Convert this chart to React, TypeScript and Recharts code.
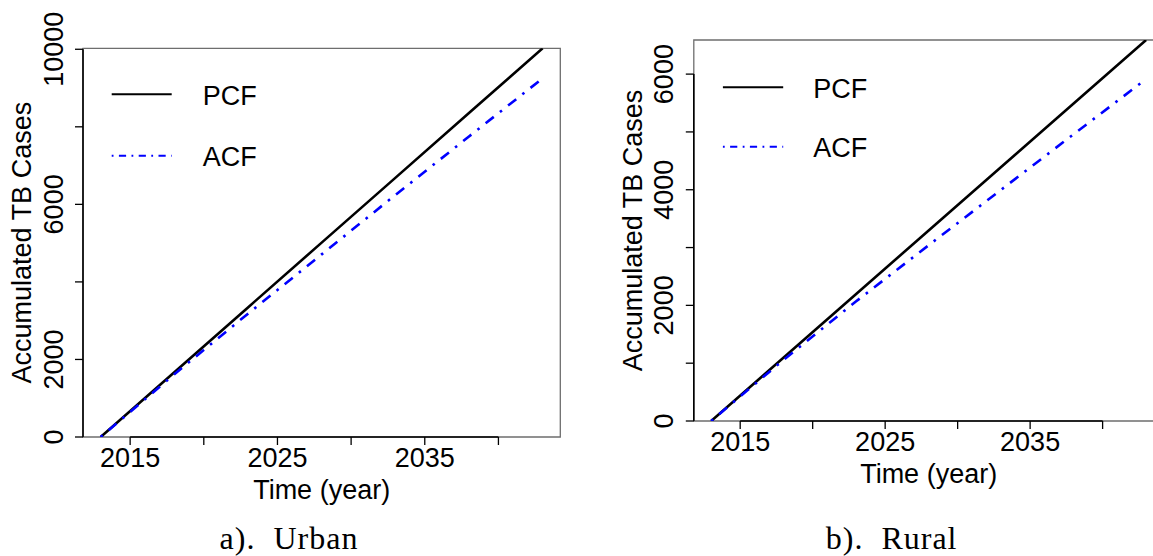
import React from 'react';
import { LineChart, Line, XAxis, YAxis, ReferenceLine, ReferenceArea, Legend } from 'recharts';

const FONT = '"Liberation Sans", Arial, Helvetica, sans-serif';
const SERIF = '"Liberation Serif", "Times New Roman", serif';

// Data
const YEARS = [2013, 2018, 2023, 2028, 2033, 2038, 2043];
const URBAN_PCF = [0, 1671, 3342, 5013, 6683, 8354, 10025];
const URBAN_ACF = [0, 1620, 3180, 4710, 6240, 7750, 9252];
const RURAL_PCF = [0, 1098, 2197, 3295, 4393, 5492, 6590];
const RURAL_ACF = [0, 1060, 2070, 3040, 4000, 4960, 5914];

const SERIES_NAMES = ['PCF', 'ACF'];
const X_TICKS = [2015, 2020, 2025, 2030, 2035, 2040];
const X_LABELS = [2015, 2025, 2035];
const X_DOMAIN = [2011.8, 2044.2];
const URBAN_Y_TICKS = [0, 2000, 4000, 6000, 8000, 10000];
const URBAN_Y_LABELS = [0, 2000, 6000, 10000];
const URBAN_Y_MAX = 10025;
const RURAL_Y_TICKS = [0, 1000, 2000, 3000, 4000, 5000, 6000];
const RURAL_Y_LABELS = [0, 2000, 4000, 6000];
const RURAL_Y_MAX = 6590;
const CAPTIONS = ['a).  Urban', 'b).  Rural'];
const X_TITLE = 'Time (year)';
const Y_TITLE = 'Accumulated TB Cases';

const build = (pcf: number[], acf: number[]) =>
  YEARS.map((y, i) => ({ year: y, PCF: pcf[i], ACF: acf[i] }));

const URBAN_DATA = build(URBAN_PCF, URBAN_ACF);
const RURAL_DATA = build(RURAL_PCF, RURAL_ACF);

const FS = 27;
const CAP = FS * 0.358;

const renderXTick = (p: any) => {
  const v = p.payload && p.payload.value;
  if (!X_LABELS.includes(v)) return <g />;
  return (
    <text x={p.x} y={p.y + 21.7} textAnchor="middle" fontFamily={FONT} fontSize={FS} fill="#000">
      {v}
    </text>
  );
};

const makeYTick = (labels: number[]) => (p: any) => {
  const v = p.payload && p.payload.value;
  if (!labels.includes(v)) return <g />;
  const cx = p.x - 22;
  return (
    <text
      transform={`translate(${cx},${p.y}) rotate(-90)`}
      x={0}
      y={0}
      dy={CAP}
      textAnchor="middle"
      fontFamily={FONT}
      fontSize={FS}
      fill="#000"
    >
      {v}
    </text>
  );
};

const XTitle = (props: any) => {
  const vb = props.viewBox || {};
  return (
    <text x={vb.x + vb.width / 2} y={vb.y + 62} textAnchor="middle" fontFamily={FONT} fontSize={FS} fill="#000">
      {X_TITLE}
    </text>
  );
};

const YTitle = (props: any) => {
  const vb = props.viewBox || {};
  const cx = vb.x + vb.width - 61.5;
  const cy = vb.y + vb.height / 2;
  return (
    <text
      transform={`translate(${cx},${cy}) rotate(-90)`}
      x={0}
      y={0}
      dy={CAP}
      textAnchor="middle"
      fontFamily={FONT}
      fontSize={FS}
      fill="#000"
    >
      {Y_TITLE}
    </text>
  );
};

type LegendGeo = { left: number; top: number; x1: number; x2: number; tx: number; y1: number; y2: number };

const makeLegend = (g: LegendGeo) => () => (
  <svg width={260} height={130} style={{ display: 'block' }}>
    <line x1={g.x1} x2={g.x2} y1={g.y1} y2={g.y1} stroke="#000" strokeWidth={2} />
    <text x={g.tx} y={g.y1 + 10.3} fontFamily={FONT} fontSize={FS} fill="#000">
      {SERIES_NAMES[0]}
    </text>
    <line x1={g.x1} x2={g.x2} y1={g.y2} y2={g.y2} stroke="#0000ff" strokeWidth={2} strokeDasharray="1.8 5.4 7.2 5.4" />
    <text x={g.tx} y={g.y2 + 10.3} fontFamily={FONT} fontSize={FS} fill="#000">
      {SERIES_NAMES[1]}
    </text>
  </svg>
);

type PanelProps = {
  left: number;
  width: number;
  margin: { top: number; right: number; bottom: number; left: number };
  yAxisWidth: number;
  xAxisHeight: number;
  data: any[];
  yMax: number;
  yTicks: number[];
  yLabels: number[];
  legend: LegendGeo;
};

function Panel(props: PanelProps) {
  const { left, width, margin, yAxisWidth, xAxisHeight, data, yMax, yTicks, yLabels, legend } = props;
  const tickLine = { stroke: '#000', strokeWidth: 1.3 };
  return (
    <div style={{ position: 'absolute', left, top: 0 }}>
      <LineChart width={width} height={556} data={data} margin={margin}>
        <XAxis
          dataKey="year"
          type="number"
          domain={X_DOMAIN}
          ticks={X_TICKS}
          allowDataOverflow
          axisLine={false}
          tickSize={8}
          tickMargin={0}
          tickLine={tickLine}
          height={xAxisHeight}
          interval={0}
          tick={renderXTick}
          label={{ content: XTitle }}
        />
        <YAxis
          type="number"
          domain={[0, yMax]}
          ticks={yTicks}
          allowDataOverflow
          axisLine={false}
          tickSize={8}
          tickMargin={0}
          tickLine={tickLine}
          width={yAxisWidth}
          interval={0}
          tick={makeYTick(yLabels)}
          label={{ content: YTitle }}
        />
        <ReferenceArea
          x1={X_DOMAIN[0]}
          x2={X_DOMAIN[1]}
          y1={0}
          y2={yMax}
          fill="none"
          fillOpacity={0}
          stroke="#6e6e6e"
          strokeWidth={1.3}
          ifOverflow="visible"
        />
        <ReferenceLine
          segment={[{ x: X_TICKS[0], y: 0 }, { x: X_TICKS[X_TICKS.length - 1], y: 0 }]}
          stroke="#000"
          strokeWidth={1.6}
          ifOverflow="visible"
        />
        <ReferenceLine
          segment={[{ x: X_DOMAIN[0], y: 0 }, { x: X_DOMAIN[0], y: yTicks[yTicks.length - 1] }]}
          stroke="#000"
          strokeWidth={1.6}
          ifOverflow="visible"
        />
        <Line dataKey="PCF" stroke="#000" strokeWidth={2.6} dot={false} activeDot={false} isAnimationActive={false} />
        <Line
          dataKey="ACF"
          stroke="#0000ff"
          strokeWidth={2.6}
          strokeDasharray="2.6 7.8 10.4 7.8"
          dot={false}
          activeDot={false}
          isAnimationActive={false}
        />
        <Legend
          layout="horizontal"
          verticalAlign="middle"
          align="center"
          content={makeLegend(legend)}
          wrapperStyle={{ position: 'absolute', left: legend.left, top: legend.top, width: 260, height: 130 }}
        />
      </LineChart>
    </div>
  );
}

export default function App() {
  return (
    <div
      style={{
        position: 'absolute',
        left: 0,
        top: 0,
        width: 1153,
        height: 556,
        overflow: 'hidden',
        background: '#fff',
      }}
    >
      <Panel
        left={0}
        width={580}
        margin={{ top: 48.3, right: 19.7, bottom: 0, left: 0 }}
        yAxisWidth={83}
        xAxisHeight={119}
        data={URBAN_DATA}
        yMax={URBAN_Y_MAX}
        yTicks={URBAN_Y_TICKS}
        yLabels={URBAN_Y_LABELS}
        legend={{ left: 100, top: 60, x1: 11.7, x2: 71.7, tx: 102.7, y1: 34.3, y2: 95.7 }}
      />
      <Panel
        left={600}
        width={600}
        margin={{ top: 40, right: 36.5, bottom: 0, left: 0 }}
        yAxisWidth={93.8}
        xAxisHeight={135}
        data={RURAL_DATA}
        yMax={RURAL_Y_MAX}
        yTicks={RURAL_Y_TICKS}
        yLabels={RURAL_Y_LABELS}
        legend={{ left: 110, top: 50, x1: 12.9, x2: 73.2, tx: 103.3, y1: 37.3, y2: 96.7 }}
      />
      <svg width={1153} height={556} style={{ position: 'absolute', left: 0, top: 0, pointerEvents: 'none' }}>
        <text x={289} y={549} textAnchor="middle" fontFamily={SERIF} fontSize={32} letterSpacing={1} style={{ whiteSpace: 'pre' }} fill="#000">
          {CAPTIONS[0]}
        </text>
        <text x={891.6} y={549} textAnchor="middle" fontFamily={SERIF} fontSize={32} letterSpacing={1} style={{ whiteSpace: 'pre' }} fill="#000">
          {CAPTIONS[1]}
        </text>
      </svg>
    </div>
  );
}
